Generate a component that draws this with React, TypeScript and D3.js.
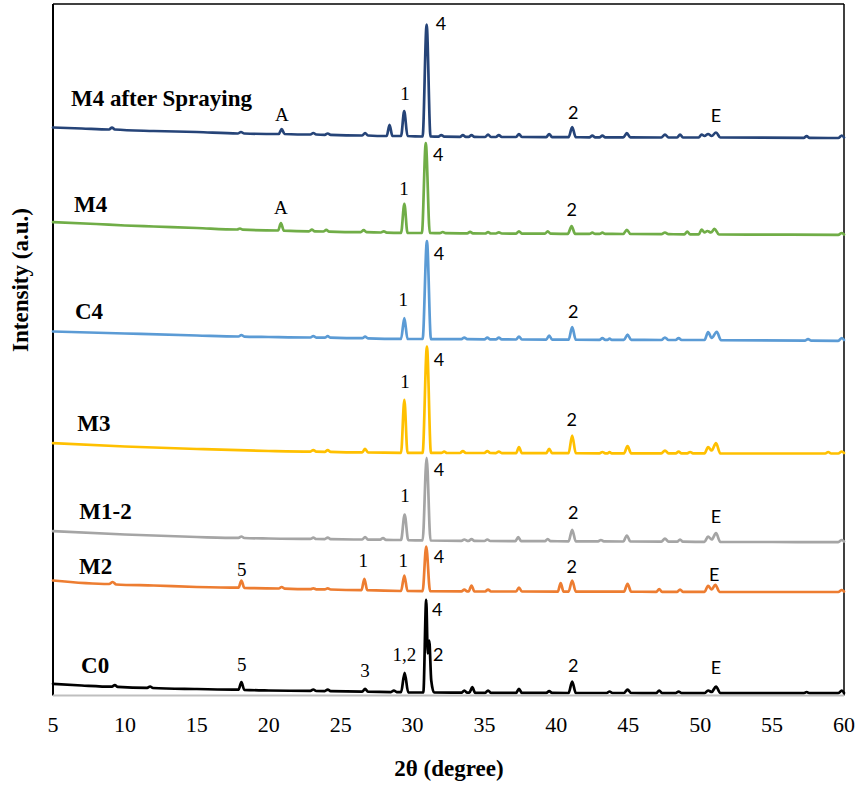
import React from "react";
import * as d3 from "d3";

// ---------- DATA ----------
const xTicks = [5, 10, 15, 20, 25, 30, 35, 40, 45, 50, 55, 60];

const seriesNames = ["M4 after Spraying", "M4", "C4", "M3", "M1-2", "M2", "C0"];
const seriesColors = ["#264478", "#70AD47", "#5B9BD5", "#FFC000", "#A5A5A5", "#ED7D31", "#000000"];
const seriesLabelX = [6.25, 6.46, 6.53, 6.69, 6.83, 6.81, 6.95];
const seriesLabelY = [590, 483.3, 376.7, 264.3, 177, 121.7, 22.3];

const m4SprayData: [number, number][] = [
  [5, 568], [7, 567], [8.9, 566], [9.1, 568], [9.3, 566], [12, 564.5], [15, 563.5], [17.85, 562], [18.07, 563.5], [18.3, 562],
  [20.7, 561.5], [20.9, 566.5], [21.1, 561.5], [22.9, 561], [23.1, 562.5], [23.3, 561], [23.9, 560.7], [24.1, 562], [24.3, 560.7],
  [26.5, 560], [26.7, 562.5], [26.9, 560], [28.2, 559.5], [28.4, 570.7], [28.6, 559.5], [29.2, 559.5], [29.42, 584.3], [29.65, 559.5],
  [30.7, 559], [30.98, 671], [31.25, 559], [31.8, 558.8], [32.0, 560.5], [32.2, 558.8], [33.3, 558.7], [33.5, 560.5], [33.7, 558.7],
  [33.9, 558.7], [34.1, 560.5], [34.3, 558.7], [35.05, 558.5], [35.25, 561], [35.45, 558.5], [35.8, 558.5], [36.0, 560.5], [36.2, 558.5],
  [37.2, 558.5], [37.4, 561.5], [37.6, 558.5], [39.3, 558.4], [39.5, 561.5], [39.7, 558.4], [40.85, 558.3], [41.1, 568.3], [41.35, 558.3],
  [42.3, 558.2], [42.5, 560], [42.7, 558.2], [43.0, 558.2], [43.2, 560], [43.4, 558.2], [44.65, 558.1], [44.9, 562.3], [45.15, 558.1],
  [47.3, 558], [47.55, 561], [47.8, 558], [48.4, 558], [48.6, 561], [48.8, 558], [49.9, 558], [50.1, 561], [50.3, 559.5], [50.55, 561.5],
  [50.8, 559.5], [51.1, 563], [51.4, 558], [57.2, 557.7], [57.4, 559.5], [57.6, 557.7], [59.6, 557.5], [59.85, 560], [60, 558],
];

const m4Data: [number, number][] = [
  [5, 473.3], [8, 471.5], [10, 470], [12, 469], [15, 467.5], [17.8, 466], [18.0, 467], [18.2, 465.8], [20.65, 465], [20.85, 472.3],
  [21.05, 464.9], [22.8, 464.2], [23.0, 465.8], [23.2, 464.1], [23.8, 464], [24.0, 465.6], [24.2, 463.9], [26.4, 463.4], [26.6, 465.4],
  [26.8, 463.3], [27.8, 463], [28.0, 464.2], [28.2, 462.9], [29.2, 462.7], [29.43, 491.7], [29.65, 462.7], [30.65, 462.5], [30.92, 552.3],
  [31.2, 462.5], [31.9, 462.3], [32.1, 463.5], [32.3, 462.3], [33.8, 462.1], [34.0, 463.7], [34.2, 462.1], [35.05, 462], [35.25, 463.3],
  [35.45, 462], [35.8, 462], [36.0, 463.2], [36.2, 462], [37.2, 461.9], [37.4, 464.2], [37.6, 461.9], [39.2, 461.8], [39.4, 464.2],
  [39.6, 461.8], [40.8, 461.7], [41.06, 469.3], [41.3, 461.7], [42.3, 461.6], [42.5, 462.8], [42.7, 461.6], [43.0, 461.6], [43.2, 462.8],
  [43.4, 461.6], [44.65, 461.5], [44.9, 465.7], [45.15, 461.5], [47.3, 461.3], [47.55, 463], [47.8, 461.3], [48.9, 461.2], [49.1, 464],
  [49.3, 461.2], [49.9, 461.2], [50.1, 466], [50.3, 463], [50.5, 464.5], [50.75, 463], [51.0, 466.7], [51.3, 461.1], [55, 460.9],
  [59.6, 460.7], [59.85, 462.5], [60, 461],
];

const c4Data: [number, number][] = [
  [5, 364], [10, 362], [15, 360], [17.9, 359], [18.1, 360.5], [18.3, 358.9], [20, 358.5], [22.9, 358], [23.1, 359.5], [23.3, 357.9],
  [23.9, 357.8], [24.1, 359.3], [24.3, 357.8], [26.5, 357.3], [26.7, 358.8], [26.9, 357.2], [29.2, 356.7], [29.43, 377.3], [29.65, 356.7],
  [30.7, 356.5], [31.0, 454.3], [31.28, 356.4], [33.4, 356.3], [33.6, 358], [33.8, 356.3], [35.0, 356.2], [35.2, 358], [35.4, 356.2],
  [35.8, 356.1], [36.0, 358], [36.2, 356.1], [37.2, 356], [37.4, 359], [37.6, 356], [39.3, 355.9], [39.5, 360], [39.7, 355.9],
  [40.85, 355.8], [41.1, 368.3], [41.35, 355.8], [43.0, 355.7], [43.2, 357.5], [43.4, 355.7], [43.55, 355.7], [43.7, 357], [43.85, 355.7],
  [44.7, 355.6], [44.95, 361], [45.2, 355.6], [47.3, 355.5], [47.55, 358], [47.8, 355.5], [48.3, 355.5], [48.5, 357.5], [48.7, 355.5],
  [50.3, 355.5], [50.55, 363.3], [50.8, 357.5], [51.15, 363.7], [51.45, 355.4], [57.3, 354.9], [57.5, 356.5], [57.7, 354.9],
  [59.6, 354.7], [59.85, 357.5], [60, 355.5],
];

const m3Data: [number, number][] = [
  [5, 252.3], [10, 249], [15, 246.5], [20, 244.5], [22.9, 243.9], [23.1, 245.5], [23.3, 243.8], [23.9, 243.7], [24.1, 245.5], [24.3, 243.7],
  [26.5, 243.2], [26.7, 246.7], [26.9, 243.1], [29.2, 242.7], [29.43, 295.7], [29.65, 242.7], [30.7, 242.6], [31.0, 349], [31.28, 242.6],
  [32.0, 242.6], [32.2, 243.8], [32.4, 242.5], [33.3, 242.5], [33.5, 244.5], [33.7, 242.5], [35.0, 242.5], [35.2, 244.5], [35.4, 242.5],
  [35.8, 242.4], [36.0, 244], [36.2, 242.4], [37.2, 242.4], [37.4, 248.3], [37.6, 242.4], [39.3, 242.3], [39.5, 246.7], [39.7, 242.3],
  [40.85, 242.3], [41.1, 260], [41.35, 242.3], [43.0, 242.2], [43.2, 243.5], [43.4, 242.2], [43.55, 242.2], [43.7, 243.5], [43.85, 242.2],
  [44.7, 242.2], [44.95, 249.3], [45.2, 242.2], [47.3, 242.1], [47.55, 245], [47.8, 242.1], [48.3, 242.1], [48.5, 244], [48.7, 242.1],
  [49.1, 242.1], [49.3, 243.5], [49.5, 242.1], [50.3, 242.1], [50.55, 248.3], [50.8, 245], [51.1, 252.3], [51.4, 242], [58.7, 242],
  [58.9, 243.5], [59.1, 242], [59.6, 242], [59.85, 244], [60, 242.5],
];

const m12Data: [number, number][] = [
  [5, 164.3], [10, 161], [15, 158.5], [17.9, 157.6], [18.1, 159], [18.3, 157.5], [20, 157], [22.9, 156.6], [23.1, 157.8], [23.3, 156.5],
  [23.9, 156.4], [24.1, 158], [24.3, 156.3], [26.5, 156], [26.7, 158.5], [26.9, 155.9], [27.75, 155.8], [27.95, 157.5], [28.15, 155.7],
  [29.2, 155.5], [29.45, 181], [29.7, 155.4], [30.7, 155.2], [30.98, 237.7], [31.25, 155], [33.4, 154.7], [33.6, 156], [33.8, 154.7],
  [33.9, 154.6], [34.1, 156.5], [34.3, 154.6], [35.0, 154.5], [35.2, 156], [35.4, 154.5], [37.15, 154.4], [37.35, 158.3], [37.55, 154.4],
  [39.2, 154.3], [39.4, 156.5], [39.6, 154.3], [40.85, 154.2], [41.1, 165.7], [41.35, 154.2], [42.9, 154.1], [43.1, 155.5], [43.3, 154.1],
  [44.65, 154], [44.9, 160], [45.15, 154], [47.3, 153.8], [47.55, 157], [47.8, 153.8], [48.4, 153.8], [48.6, 156], [48.8, 153.8],
  [50.3, 153.7], [50.55, 159], [50.8, 156], [51.1, 162.3], [51.4, 153.6], [55, 153.5], [59.6, 153.3], [59.85, 155.5], [60, 154],
];

const m2Data: [number, number][] = [
  [5, 115], [8.9, 111.5], [9.15, 113.5], [9.4, 111], [12, 110], [15, 108.5], [17.9, 107.8], [18.1, 115], [18.3, 107.7], [20.7, 107],
  [20.9, 108.5], [21.1, 106.9], [22.9, 106.3], [23.1, 107.2], [23.3, 106.2], [23.9, 106.1], [24.1, 107.2], [24.3, 106], [26.45, 105.4],
  [26.65, 116.7], [26.85, 105.3], [29.2, 104.5], [29.43, 120], [29.65, 104.5], [30.7, 104.4], [30.95, 149], [31.22, 104.3], [33.4, 104.1],
  [33.6, 106], [33.8, 104.1], [33.9, 104.1], [34.1, 110], [34.3, 104.1], [35.05, 104], [35.25, 106], [35.45, 104], [37.2, 104],
  [37.4, 108], [37.6, 104], [40.1, 103.9], [40.3, 112.3], [40.5, 103.9], [40.85, 103.9], [41.1, 115], [41.35, 103.9], [44.7, 103.8],
  [44.95, 111.7], [45.2, 103.8], [46.95, 103.7], [47.15, 106.5], [47.35, 103.7], [48.4, 103.7], [48.6, 106], [48.8, 103.7], [50.3, 103.7],
  [50.55, 109.7], [50.8, 106], [51.05, 110.7], [51.35, 103.6], [55, 103.5], [59.6, 103.5], [59.85, 105.5], [60, 104],
];

const c0Data: [number, number][] = [
  [5, 11.7], [7, 10], [9.1, 8.8], [9.3, 10.5], [9.5, 8.7], [11.55, 7.6], [11.75, 9], [11.95, 7.5], [15, 6.5], [17.9, 5.8], [18.1, 13.3],
  [18.3, 5.7], [20, 5], [22.9, 4.6], [23.1, 6], [23.3, 4.5], [23.9, 4.4], [24.1, 6], [24.3, 4.3], [26.5, 3.9], [26.7, 6.7], [26.9, 3.8],
  [28.5, 3.4], [28.7, 5], [28.9, 3.4], [29.2, 3.3], [29.45, 22.7], [29.7, 3.2], [30.75, 3], [30.95, 95.7], [31.06, 42], [31.16, 55],
  [31.3, 15], [31.5, 3], [33.4, 2.8], [33.6, 5], [33.8, 2.8], [33.95, 2.8], [34.15, 8.3], [34.35, 2.7], [35.05, 2.7], [35.25, 5],
  [35.45, 2.7], [37.2, 2.6], [37.4, 6.7], [37.6, 2.6], [39.3, 2.6], [39.5, 4.5], [39.7, 2.6], [40.85, 2.5], [41.1, 14], [41.35, 2.5],
  [43.5, 2.5], [43.7, 4], [43.9, 2.5], [44.7, 2.5], [44.95, 6], [45.2, 2.5], [46.95, 2.4], [47.15, 5], [47.35, 2.4], [48.3, 2.4],
  [48.5, 4], [48.7, 2.4], [50.3, 2.4], [50.55, 5], [50.8, 3.5], [51.1, 9], [51.4, 2.4], [57.2, 2.3], [57.4, 3.5], [57.6, 2.3],
  [59.6, 2.3], [59.85, 5], [60, 2.5],
];

const seriesData = [m4SprayData, m4Data, c4Data, m3Data, m12Data, m2Data, c0Data];

// peak annotations: text, 2θ position, intensity position, font kind
const annTexts = [
  "A", "1", "4", "2", "E",
  "A", "1", "4", "2",
  "1", "4", "2",
  "1", "4", "2",
  "1", "4", "2", "E",
  "5", "1", "1", "4", "2", "E",
  "5", "3", "1,2", "4", "2", "2", "E",
];
const annX = [
  20.92, 29.47, 31.98, 41.18, 51.1,
  20.85, 29.41, 31.79, 41.07,
  29.36, 31.84, 41.18,
  29.47, 31.84, 41.07,
  29.47, 31.84, 41.18, 51.1,
  18.12, 26.58, 29.36, 31.84, 41.07, 50.98,
  18.12, 26.69, 29.43, 31.72, 31.79, 41.18, 51.1,
];
const annY = [
  575, 596, 666, 576.7, 573.3,
  481.7, 501, 534.3, 480,
  389.3, 436, 377.7,
  307.3, 330, 269.3,
  193.3, 220, 177, 173,
  120, 128.3, 128.3, 132.3, 122.7, 115,
  24.3, 18.3, 35, 80, 35, 23.3, 21.7,
];
const annSerif = [
  true, true, false, false, false,
  true, true, false, false,
  true, false, false,
  true, false, false,
  true, false, false, false,
  true, true, true, false, false, false,
  true, true, true, false, false, false, false,
];

// ---------- CHART ----------
const W = 858;
const H = 785;
const left = 53;
const right = 844;
const top = 4;
const bottom = 695.5;

export default function App() {
  const x = d3.scaleLinear().domain([5, 60]).range([left, right]);
  const y = d3.scaleLinear().domain([0, 691.5]).range([bottom, top]);
  const line = d3
    .line<[number, number]>()
    .x((d) => x(d[0]))
    .y((d) => y(d[1]))
    .curve(d3.curveMonotoneX);

  const serif = "'Liberation Serif', 'Times New Roman', serif";
  const sans = "Lato, 'Open Sans', sans-serif";

  return (
    <svg
      width={W}
      height={H}
      style={{ position: "absolute", left: 0, top: 0, background: "#fff" }}
    >
      <rect x={0} y={0} width={W} height={H} fill="#fff" />
      {/* frame */}
      <line x1={left} y1={top} x2={right} y2={top} stroke="#000" strokeWidth={1.5} />
      <line x1={right} y1={top} x2={right} y2={bottom} stroke="#000" strokeWidth={1.5} />
      <line x1={left} y1={top} x2={left} y2={bottom} stroke="#000" strokeWidth={2} />

      {/* series */}
      {seriesData.map((data, i) => (
        <path
          key={seriesNames[i]}
          d={line(data) || ""}
          fill="none"
          stroke={seriesColors[i]}
          strokeWidth={2.7}
          strokeLinejoin="round"
          strokeLinecap="round"
        />
      ))}

      {/* x axis line */}
      <line x1={left} y1={bottom} x2={right} y2={bottom} stroke="#BFBFBF" strokeWidth={2} />

      {/* x tick labels */}
      {xTicks.map((t) => (
        <text
          key={t}
          x={x(t)}
          y={732}
          textAnchor="middle"
          fontFamily={serif}
          fontSize={22}
          fill="#000"
        >
          {t}
        </text>
      ))}

      {/* axis titles */}
      <text
        x={449}
        y={776}
        textAnchor="middle"
        fontFamily={serif}
        fontWeight="bold"
        fontSize={23}
        fill="#000"
      >
        2θ (degree)
      </text>
      <text
        transform={`translate(28,280) rotate(-90)`}
        textAnchor="middle"
        fontFamily={serif}
        fontWeight="bold"
        fontSize={23}
        fill="#000"
      >
        Intensity (a.u.)
      </text>

      {/* series labels */}
      {seriesNames.map((n, i) => (
        <text
          key={"lbl" + n}
          x={x(seriesLabelX[i])}
          y={y(seriesLabelY[i])}
          fontFamily={serif}
          fontWeight="bold"
          fontSize={23}
          fill="#000"
        >
          {n}
        </text>
      ))}

      {/* peak annotations */}
      {annTexts.map((t, i) => (
        <text
          key={"ann" + i}
          x={x(annX[i])}
          y={y(annY[i])}
          textAnchor="middle"
          fontFamily={annSerif[i] ? serif : sans}
          fontSize={annSerif[i] ? 19 : 18}
          fill="#000"
        >
          {t}
        </text>
      ))}
    </svg>
  );
}
